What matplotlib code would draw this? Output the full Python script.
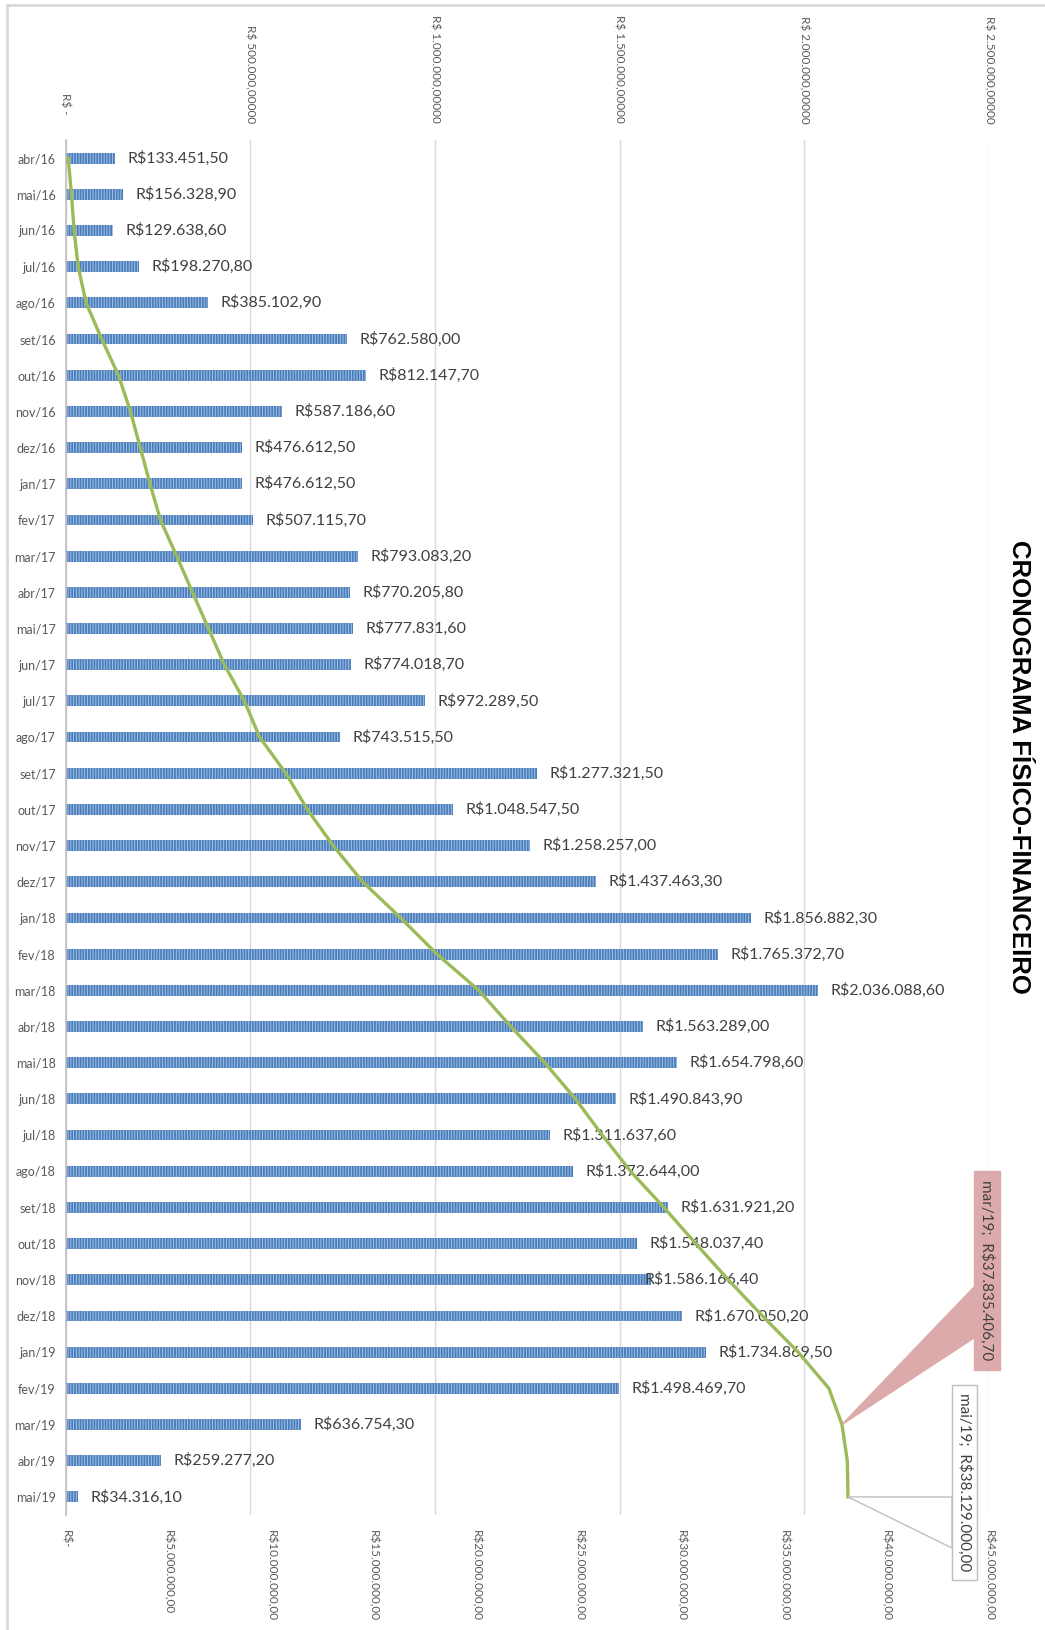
import numpy as np
import matplotlib.pyplot as plt
from matplotlib.patches import Polygon, Rectangle
from matplotlib.lines import Line2D
from matplotlib.transforms import IdentityTransform

# plt settings
plt.rcParams['font.family'] = ['Lato', 'DejaVu Sans']
plt.rcParams['hatch.linewidth'] = 0.7

W, H = 1045, 1630

months = ['abr/16', 'mai/16', 'jun/16', 'jul/16', 'ago/16', 'set/16', 'out/16', 'nov/16',
          'dez/16', 'jan/17', 'fev/17', 'mar/17', 'abr/17', 'mai/17', 'jun/17', 'jul/17',
          'ago/17', 'set/17', 'out/17', 'nov/17', 'dez/17', 'jan/18', 'fev/18', 'mar/18',
          'abr/18', 'mai/18', 'jun/18', 'jul/18', 'ago/18', 'set/18', 'out/18', 'nov/18',
          'dez/18', 'jan/19', 'fev/19', 'mar/19', 'abr/19', 'mai/19']
monthly = [133451.50, 156328.90, 129638.60, 198270.80, 385102.90, 762580.00, 812147.70, 587186.60,
           476612.50, 476612.50, 507115.70, 793083.20, 770205.80, 777831.60, 774018.70, 972289.50,
           743515.50, 1277321.50, 1048547.50, 1258257.00, 1437463.30, 1856882.30, 1765372.70, 2036088.60,
           1563289.00, 1654798.60, 1490843.90, 1311637.60, 1372644.00, 1631921.20, 1548037.40, 1586166.40,
           1670050.20, 1734869.50, 1498469.70, 636754.30, 259277.20, 34316.10]

top_ticks = [0, 500000, 1000000, 1500000, 2000000, 2500000]
top_tick_labels = ['R$ -   ', 'R$ 500.000,00000', 'R$ 1.000.000,00000', 'R$ 1.500.000,00000',
                   'R$ 2.000.000,00000', 'R$ 2.500.000,00000']
bottom_ticks = [0, 5e6, 10e6, 15e6, 20e6, 25e6, 30e6, 35e6, 40e6, 45e6]
bottom_tick_labels = ['R$-', 'R$5.000.000,00', 'R$10.000.000,00', 'R$15.000.000,00',
                      'R$20.000.000,00', 'R$25.000.000,00', 'R$30.000.000,00', 'R$35.000.000,00',
                      'R$40.000.000,00', 'R$45.000.000,00']
title = 'CRONOGRAMA FÍSICO-FINANCEIRO'

# accumulated spending, drawn as the line on the secondary axis
accumulated = np.cumsum(monthly)


def brl(v):
    s = '{:,.2f}'.format(v)
    return 'R$' + s.replace(',', '#').replace('.', ',').replace('#', '.')


def px(x, y):
    # pixel measured from the top-left corner -> display coords
    return (x, H - y)


fig = plt.figure(figsize=(W / 100, H / 100), dpi=100)
fig.patch.set_facecolor('white')

left, right, top, bottom = 65.5, 989, 140, 1515
ax = fig.add_axes([left / W, 1 - bottom / H, (right - left) / W, (bottom - top) / H])
ax2 = ax.twiny()
y = np.arange(len(months))

##### Monthly bars (top axis) #####
ax.barh(y, monthly, height=0.3, color='#4a7ebb', edgecolor='#a3c0e6', linewidth=0,
        hatch='|' * 6, zorder=2)
ax.set_xlim(0, 2500000)
ax.set_ylim(len(months) - 0.5, -0.5)
ax.xaxis.tick_top()
ax.set_xticks(top_ticks)
ax.set_xticklabels(top_tick_labels, rotation=-90, fontsize=8.5, color='#595959')
ax.set_yticks(y)
ax.set_yticklabels(months, fontsize=9, color='#595959')
ax.tick_params(axis='x', which='both', length=0, pad=12, labeltop=True, labelbottom=False)
ax.tick_params(axis='y', length=0, pad=7)
ax.grid(axis='x', color='#d9d9d9', linewidth=1)
ax.set_axisbelow(True)
for side in ['top', 'right', 'bottom']:
    ax.spines[side].set_visible(False)
ax.spines['left'].set_color('#bfbfbf')
ax.spines['left'].set_linewidth(1.2)

# value labels (nov/18 was nudged left onto the bar)
nudge = {'nov/18': -14}
for i, v in enumerate(monthly):
    ax.annotate(brl(v), (v, i), xytext=(9 + nudge.get(months[i], 0), 0),
                textcoords='offset points', ha='left', va='center',
                fontsize=11.5, color='#404040', zorder=3)

##### Accumulated line (bottom axis) #####
ax2.plot(accumulated, y, color='#9bbb59', linewidth=2.4, solid_joinstyle='round', zorder=4)
ax2.set_xlim(0, 45000000)
ax2.set_ylim(len(months) - 0.5, -0.5)
ax2.xaxis.tick_bottom()
ax2.set_xticks(bottom_ticks)
ax2.set_xticklabels(bottom_tick_labels, rotation=-90, fontsize=8.5, color='#595959')
ax2.tick_params(axis='x', which='both', length=0, pad=11, labelbottom=True, labeltop=False)
for side in ax2.spines:
    ax2.spines[side].set_visible(False)


def callout(idx, box, base, fc, ec):
    # wedge callout: box given as (x0, y0, x1, y1) in pixels from the top-left,
    # base = (y_a, y_b) where the wedge meets the box's left edge
    apex = ax2.transData.transform((accumulated[idx], idx))
    x0, y0, x1, y1 = box
    wedge = Polygon([tuple(apex), px(x0, base[0]), px(x0, base[1])], closed=True,
                    facecolor=fc, edgecolor=ec, linewidth=1, transform=IdentityTransform(),
                    zorder=5)
    fig.add_artist(wedge)
    rect = Rectangle(px(x0, y1), x1 - x0, y1 - y0, facecolor=fc, edgecolor=ec, linewidth=1,
                     transform=IdentityTransform(), zorder=6)
    fig.add_artist(rect)
    cx, cy = px((x0 + x1) / 2, (y0 + y1) / 2)
    fig.text(cx / W, cy / H, '{};  {}'.format(months[idx], brl(accumulated[idx])),
             rotation=-90, ha='center', va='center', fontsize=11, color='#404040', zorder=7)


callout(35, (974, 1171, 1000, 1370), (1287, 1338), '#dcaaaa', '#dcaaaa')
callout(37, (952, 1385, 977, 1580), (1497, 1548), 'white', '#bfbfbf')

##### Title #####
fig.text(1019 / W, 1 - 767 / H, title, rotation=-90, ha='center', va='center',
         fontsize=18.5, fontweight='bold', family=['Liberation Sans', 'DejaVu Sans'], color='black')

# chart frame
fig.add_artist(Line2D([7 / W, 1], [1 - 5 / H, 1 - 5 / H], color='#d9d9d9', linewidth=2))
fig.add_artist(Line2D([7 / W, 7 / W], [0, 1 - 5 / H], color='#d9d9d9', linewidth=2))

fig.savefig('out.png', dpi=100, facecolor='white')
